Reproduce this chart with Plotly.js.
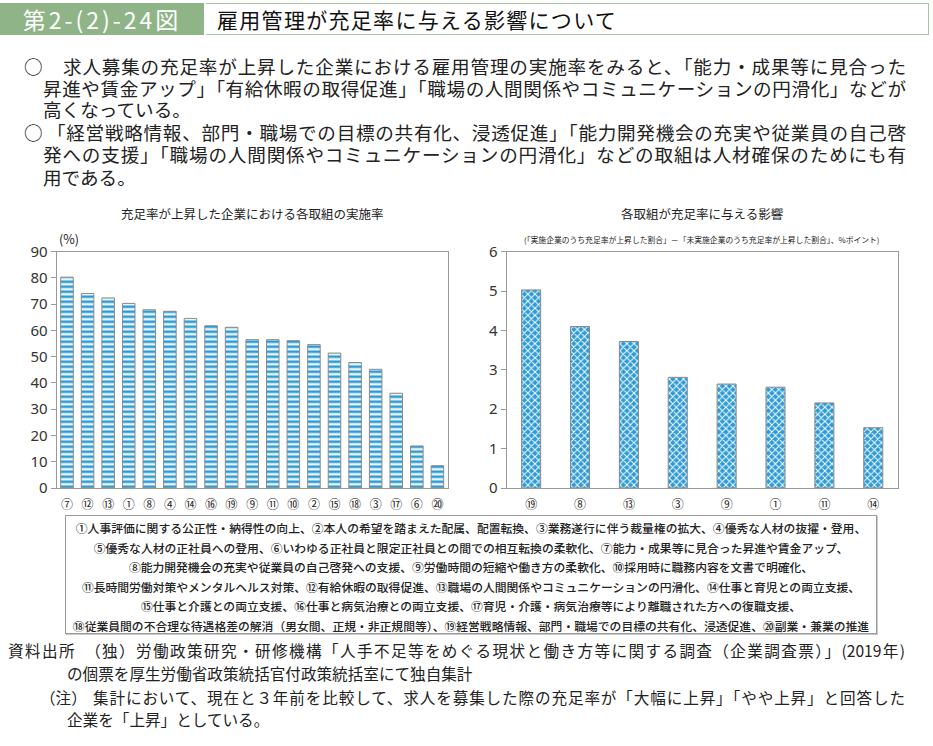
<!DOCTYPE html>
<html lang="ja">
<head>
<meta charset="utf-8">
<script src="https://cdn.plot.ly/plotly-3.0.1.min.js"></script>
<style>
  html, body { margin:0; padding:0; background:#fff; }
  body { width:933px; height:746px; position:relative; overflow:hidden;
         font-family:"Noto Sans CJK JP","Noto Sans",sans-serif; color:#222; }
  #chart { position:absolute; left:0; top:0; width:933px; height:746px; }
  .abs { position:absolute; white-space:nowrap; }
  .just { text-align:justify; text-align-last:justify; white-space:normal; }
  #hdrL { left:0; top:3px; width:204px; height:32px; background:#8fb487; color:#fff;
          font-size:23px; line-height:32px; text-align:center; letter-spacing:3px; }
  #hdrR { left:206px; top:3px; width:722px; height:30px; border:1px solid #a8c79e;
          border-left:none; }
  #hdrT { left:217px; top:3px; font-size:21px; line-height:32px; letter-spacing:1.3px; color:#111; }
  .body { font-size:18.6px; line-height:20px; height:20px; }
  #legend { left:65px; top:515px; width:810px; height:117px; border:1px solid #9a9a9a;
            box-shadow:1px 1px 0 #c8c8c8; }
  .leg { font-size:11.8px; line-height:17px; height:17px; left:0; width:810px; text-align:center; font-weight:500; }
  .fn { font-size:15.6px; line-height:19px; height:19px; }
</style>
</head>
<body>
<div id="chart"></div>

<div class="abs" id="hdrL">第2-(2)-24図</div>
<div class="abs" id="hdrR"></div>
<div class="abs" id="hdrT">雇用管理が充足率に与える影響について</div>

<div class="abs body" style="left:24px;top:56px;">○</div>
<div class="abs body just" style="left:63px;top:56px;width:843px;">求人募集の充足率が上昇した企業における雇用管理の実施率をみると、「能力・成果等に見合った</div>
<div class="abs body just" style="left:43px;top:78px;width:863px;">昇進や賃金アップ」「有給休暇の取得促進」「職場の人間関係やコミュニケーションの円滑化」などが</div>
<div class="abs body" style="left:43px;top:99px;">高くなっている。</div>
<div class="abs body" style="left:24px;top:122px;">○</div>
<div class="abs body just" style="left:47px;top:122px;width:859px;">「経営戦略情報、部門・職場での目標の共有化、浸透促進」「能力開発機会の充実や従業員の自己啓</div>
<div class="abs body just" style="left:43px;top:144px;width:863px;">発への支援」「職場の人間関係やコミュニケーションの円滑化」などの取組は人材確保のためにも有</div>
<div class="abs body" style="left:43px;top:167px;">用である。</div>

<div class="abs" id="legend">
  <div class="abs leg" style="top:3px;">①人事評価に関する公正性・納得性の向上、②本人の希望を踏まえた配属、配置転換、③業務遂行に伴う裁量権の拡大、④優秀な人材の抜擢・登用、</div>
  <div class="abs leg" style="top:22.5px;">⑤優秀な人材の正社員への登用、⑥いわゆる正社員と限定正社員との間での相互転換の柔軟化、⑦能力・成果等に見合った昇進や賃金アップ、</div>
  <div class="abs leg" style="top:42px;">⑧能力開発機会の充実や従業員の自己啓発への支援、⑨労働時間の短縮や働き方の柔軟化、⑩採用時に職務内容を文書で明確化、</div>
  <div class="abs leg" style="top:61.5px;">⑪長時間労働対策やメンタルヘルス対策、⑫有給休暇の取得促進、⑬職場の人間関係やコミュニケーションの円滑化、⑭仕事と育児との両立支援、</div>
  <div class="abs leg" style="top:81px;">⑮仕事と介護との両立支援、⑯仕事と病気治療との両立支援、⑰育児・介護・病気治療等により離職された方への復職支援、</div>
  <div class="abs leg" style="top:100.5px;">⑱従業員間の不合理な待遇格差の解消（男女間、正規・非正規間等）、⑲経営戦略情報、部門・職場での目標の共有化、浸透促進、⑳副業・兼業の推進</div>
</div>

<div class="abs fn just" style="left:8px;top:641px;width:897px;">資料出所　（独）労働政策研究・研修機構「人手不足等をめぐる現状と働き方等に関する調査（企業調査票）」(2019年)</div>
<div class="abs fn" style="left:67px;top:664px;">の個票を厚生労働省政策統括官付政策統括室にて独自集計</div>
<div class="abs fn" style="left:40px;top:688px;">（注）</div>
<div class="abs fn just" style="left:93px;top:688px;width:812px;">集計において、現在と３年前を比較して、求人を募集した際の充足率が「大幅に上昇」「やや上昇」と回答した</div>
<div class="abs fn" style="left:67px;top:710px;">企業を「上昇」としている。</div>

<script>
// ---- data ----
const leftCats = ['⑦','⑫','⑬','①','⑧','④','⑭','⑯','⑲','⑨','⑪','⑩','②','⑮','⑱','③','⑰','⑥','⑳'];
const leftVals = [80.3, 74.1, 72.4, 70.3, 67.9, 67.3, 64.6, 61.8, 61.2, 56.5, 56.5, 56.1, 54.6, 51.4, 47.8, 45.2, 36.1, 16.0, 8.5];
const rightCats = ['⑲','⑧','⑬','③','⑨','①','⑪','⑭'];
const rightVals = [5.03, 4.10, 3.72, 2.81, 2.64, 2.56, 2.16, 1.53];
const leftTicks = [0,10,20,30,40,50,60,70,80,90];
const rightTicks = [0,1,2,3,4,5,6];

// ---- layout helpers ----
const W = 933, H = 746;
const px = x => x / W;
const py = y => 1 - y / H;
const CJK = '"Noto Sans CJK JP", "Noto Sans", sans-serif';

const barLine = {color:'#8a8a8a', width:1};
const traces = [
  {type:'bar', x:leftCats, y:leftVals, xaxis:'x', yaxis:'y', width:0.61,
   marker:{color:'#2d9bd6', line:barLine,
           pattern:{shape:'-', fillmode:'replace', bgcolor:'#2d9bd6', fgcolor:'#ffffff', size:5, solidity:0.45}},
   hoverinfo:'skip'},
  {type:'bar', x:rightCats, y:rightVals, xaxis:'x2', yaxis:'y2', width:0.39,
   marker:{color:'#2d9bd6', line:barLine,
           pattern:{shape:'x', fillmode:'replace', bgcolor:'#2d9bd6', fgcolor:'#ffffff', size:5, solidity:0.35}},
   hoverinfo:'skip'}
];

const yTickFont = {family:'"Noto Sans", sans-serif', size:15, color:'#333'};
const xTickFont = {family:CJK, size:12, color:'#222'};
const axBase = {showgrid:false, zeroline:false, showline:true, mirror:true, linecolor:'#999', linewidth:1, fixedrange:true};

const layout = {
  width:W, height:H, margin:{l:0,r:0,t:0,b:0},
  paper_bgcolor:'rgba(0,0,0,0)', plot_bgcolor:'#fff', showlegend:false,
  xaxis:Object.assign({}, axBase, {domain:[px(56.7), px(447.7)], anchor:'y', type:'category',
        range:[-0.5, leftCats.length-0.5], ticks:'', tickfont:xTickFont, ticklabelstandoff:6}),
  yaxis:Object.assign({}, axBase, {domain:[py(488), py(251.7)], anchor:'x', range:[0,90],
        tickvals:leftTicks, ticks:'outside', ticklen:5, tickcolor:'#999', tickfont:yTickFont}),
  xaxis2:Object.assign({}, axBase, {domain:[px(506.7), px(897.7)], anchor:'y2', type:'category',
        range:[-0.5, rightCats.length-0.5], ticks:'', tickfont:xTickFont, ticklabelstandoff:6}),
  yaxis2:Object.assign({}, axBase, {domain:[py(488), py(251.7)], anchor:'x2', range:[0,6],
        tickvals:rightTicks, ticks:'outside', ticklen:5, tickcolor:'#999', tickfont:yTickFont}),
  annotations:[
    {text:'充足率が上昇した企業における各取組の実施率', xref:'paper', yref:'paper', x:px(252), y:py(214),
     showarrow:false, xanchor:'center', yanchor:'middle', font:{family:CJK, size:12.5, color:'#222'}},
    {text:'(%)', xref:'paper', yref:'paper', x:px(69), y:py(238),
     showarrow:false, xanchor:'center', yanchor:'middle', font:{family:CJK, size:12.5, color:'#222'}},
    {text:'各取組が充足率に与える影響', xref:'paper', yref:'paper', x:px(702), y:py(214),
     showarrow:false, xanchor:'center', yanchor:'middle', font:{family:CJK, size:12.5, color:'#222'}},
    {text:'(「実施企業のうち充足率が上昇した割合」－「未実施企業のうち充足率が上昇した割合」、%ポイント)', xref:'paper', yref:'paper', x:px(702), y:py(239),
     showarrow:false, xanchor:'center', yanchor:'middle', font:{family:CJK, size:7.8, color:'#222'}}
  ]
};

Plotly.newPlot('chart', traces, layout, {displayModeBar:false, staticPlot:true});
</script>
</body>
</html>
